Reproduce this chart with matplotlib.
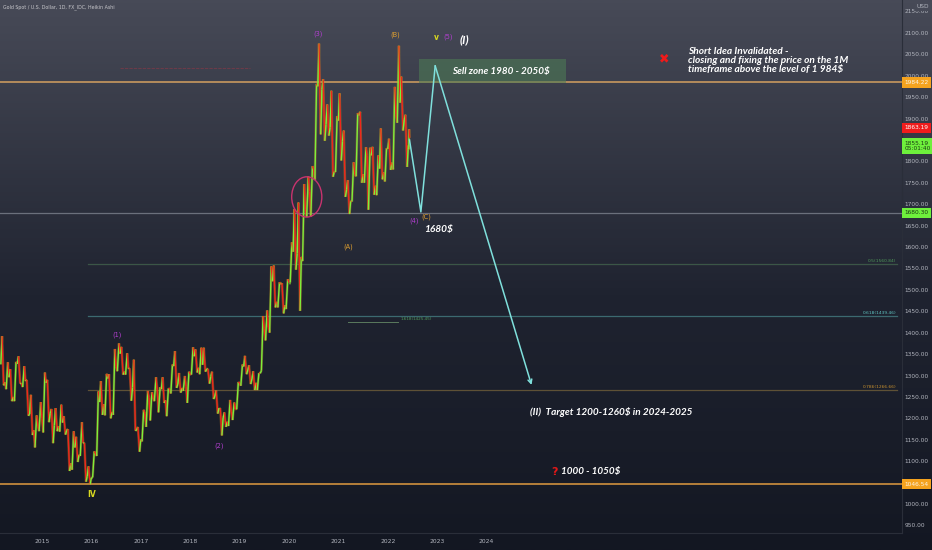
import numpy as np
import matplotlib
matplotlib.use("Agg")
import matplotlib.pyplot as plt
from matplotlib.collections import LineCollection
from matplotlib.patches import Ellipse, Rectangle
from matplotlib.colors import LinearSegmentedColormap
import matplotlib.transforms as mtransforms

# ---------------- data (monthly OHLC) ----------------
start_year, start_month = 2014, 3
last_date = 2022.44

closes = [1284, 1296, 1250, 1327, 1282, 1287, 1210, 1172, 1182, 1199,
          1283, 1212, 1183, 1182, 1190, 1172, 1095, 1132, 1115, 1142, 1065, 1061,
          1117, 1238, 1233, 1293, 1215, 1321, 1351, 1309, 1316, 1272, 1173, 1151,
          1211, 1248, 1249, 1268, 1268, 1242, 1269, 1322, 1280, 1271, 1275, 1303,
          1345, 1318, 1325, 1315, 1298, 1252, 1224, 1201, 1192, 1215, 1222, 1282,
          1321, 1313, 1292, 1283, 1305, 1409, 1413, 1520, 1472, 1513, 1464, 1517,
          1589, 1585, 1577, 1687, 1730, 1781, 1975, 1968, 1886, 1879, 1776, 1895,
          1847, 1734, 1708, 1769, 1907, 1770, 1814, 1814, 1743, 1783, 1774, 1829,
          1797, 1909, 1937, 1897, 1837, 1855]
highs = [1392, 1331, 1315, 1332, 1345, 1322, 1290, 1255, 1207, 1238,
         1307, 1290, 1222, 1224, 1232, 1205, 1175, 1170, 1157, 1191, 1143, 1088,
         1123, 1263, 1287, 1304, 1303, 1362, 1375, 1367, 1352, 1317, 1337, 1180,
         1220, 1264, 1261, 1296, 1273, 1296, 1270, 1326, 1357, 1306, 1299, 1309,
         1366, 1361, 1365, 1365, 1316, 1309, 1265, 1224, 1214, 1243, 1237, 1285,
         1326, 1346, 1324, 1310, 1306, 1439, 1452, 1555, 1557, 1518, 1516, 1525,
         1611, 1689, 1704, 1747, 1765, 1789, 1981, 2075, 1992, 1933, 1965, 1906,
         1959, 1872, 1756, 1798, 1913, 1916, 1833, 1832, 1834, 1814, 1877, 1831,
         1853, 1974, 2070, 1998, 1909, 1875]
lows = [1277, 1268, 1240, 1240, 1281, 1273, 1206, 1161, 1132, 1170,
        1167, 1191, 1142, 1170, 1169, 1162, 1077, 1080, 1098, 1112, 1052, 1046,
        1062, 1112, 1208, 1207, 1200, 1208, 1310, 1302, 1302, 1241, 1171, 1122,
        1146, 1180, 1195, 1240, 1214, 1236, 1205, 1258, 1271, 1260, 1264, 1236,
        1302, 1307, 1303, 1309, 1281, 1245, 1211, 1160, 1180, 1182, 1196, 1221,
        1276, 1303, 1280, 1266, 1266, 1311, 1382, 1400, 1459, 1459, 1445, 1455,
        1517, 1547, 1451, 1567, 1670, 1671, 1757, 1863, 1848, 1860, 1764, 1775,
        1802, 1717, 1677, 1706, 1765, 1750, 1750, 1687, 1722, 1721, 1758, 1753,
        1780, 1781, 1890, 1872, 1787, 1828]
opens = [1326] + closes[:-1]

forecast_dates = [2022.44, 2022.67, 2022.96, 2024.91]
forecast_prices = [1850, 1682, 2023, 1278]

years = list(range(2015, 2025))
price_ticks = np.arange(950, 2151, 50)
hidden_ticks = [1050, 1850]

level_1984 = 1984.22
level_1680 = 1680.30
level_1046 = 1046.54
fib_start = 2015.93
fib_levels = [("0.5", 1560.84, "#4f9a5a", "#3b5647"),
              ("0.618", 1439.46, "#5fc3c0", "#3c6a70"),
              ("0.786", 1266.66, "#c8902e", "#5e5136")]
ext_level = ("1.618", 1425.45)
ext_dates = (2021.19, 2022.2)
sell_zone_dates = (2022.63, 2025.6)
sell_zone_prices = (1982, 2038)

# ---------------- figure ----------------
W, H = 932, 550
fig = plt.figure(figsize=(W / 100, H / 100), dpi=100)

bg = fig.add_axes([0, 0, 1, 1], zorder=0)
grad = np.linspace(0, 1, 256).reshape(-1, 1) ** 0.9
cmap = LinearSegmentedColormap.from_list("bg", ["#131722", "#1f2330", "#474a57"])
bg.imshow(grad, aspect="auto", extent=[0, 1, 0, 1], origin="lower", cmap=cmap)
bg.set_axis_off()

plot_w, plot_h = 902, 533
ax = fig.add_axes([0, (H - plot_h) / H, plot_w / W, plot_h / H], zorder=1)
ax.patch.set_alpha(0)
ax.set_xlim(2014.15, 2032.41)
ax.set_ylim(932.3, 2176.8)
for s in ["top", "left"]:
    ax.spines[s].set_visible(False)
ax.spines["bottom"].set_color("#2a2e39")
ax.spines["right"].set_color("#2a2e39")

ax.yaxis.tick_right()
ax.set_yticks(price_ticks)
ax.set_yticklabels(["" if v in hidden_ticks else f"{v:.2f}" for v in price_ticks])
ax.tick_params(axis="y", length=0, pad=1.8, labelsize=4.2, labelcolor="#b2b5be")
ax.set_xticks(years)
ax.set_xticklabels([str(y) for y in years])
ax.tick_params(axis="x", length=0, pad=4.5, labelsize=4.3, labelcolor="#b2b5be")

# horizontal levels
ax.axhline(level_1984, color="#b48c5c", lw=1.4, zorder=2)
ax.axhline(level_1680, color="#6b707c", lw=0.9, zorder=2)
ax.axhline(level_1046, color="#b57f3a", lw=1.4, zorder=2)
for name, val, tc, lc in fib_levels:
    ax.plot([fib_start, 2032.3], [val, val], color=lc, lw=0.9, zorder=2)
    ax.text(2032.3, val + 3, f"{name}({val:.2f})", color=tc, fontsize=3.2,
            ha="right", va="bottom", zorder=3)
ax.plot(list(ext_dates), [ext_level[1]] * 2, color="#5a7a5e", lw=0.7, zorder=2)
ax.text(ext_dates[1] + 0.05, ext_level[1] + 2, f"{ext_level[0]}({ext_level[1]:.2f})",
        color="#4f9a5a", fontsize=3.0, ha="left", va="bottom", zorder=3)

# faint red line top-left
ax.plot([2016.58, 2019.21], [2018, 2018], color="#c03040", lw=0.8, alpha=0.35,
        ls=(0, (3, 1)), zorder=2)

# ---------------- price path ----------------
segs, cols = [], []
n = len(closes)
for i in range(n):
    t0 = start_year + (start_month - 1 + i) / 12
    t1 = min(t0 + 1 / 12, last_date)
    dt = t1 - t0
    o, h, l, c = opens[i], highs[i], lows[i], closes[i]
    if c >= o:
        pts = [(t0, o), (t0 + 0.3 * dt, l), (t0 + 0.7 * dt, h), (t1, c)]
    else:
        pts = [(t0, o), (t0 + 0.3 * dt, h), (t0 + 0.7 * dt, l), (t1, c)]
    for a, b in zip(pts[:-1], pts[1:]):
        segs.append([a, b])
        cols.append("#7cf03c" if b[1] >= a[1] else "#f0261b")
ax.add_collection(LineCollection(segs, colors="#e0901e", linewidths=1.9, alpha=0.35, zorder=3))
ax.add_collection(LineCollection(segs, colors=cols, linewidths=1.0, zorder=4))

# ---------------- forecast ----------------
ax.plot(forecast_dates[:-1], forecast_prices[:-1], color="#7fe0dc", lw=1.1, zorder=5)
ax.annotate("", xy=(forecast_dates[-1], forecast_prices[-1]),
            xytext=(forecast_dates[-2], forecast_prices[-2]),
            arrowprops=dict(arrowstyle="->", color="#7fe0dc", lw=1.1,
                            mutation_scale=7, shrinkA=0, shrinkB=0), zorder=5)

# sell zone
ax.add_patch(Rectangle((sell_zone_dates[0], sell_zone_prices[0]),
                       sell_zone_dates[1] - sell_zone_dates[0],
                       sell_zone_prices[1] - sell_zone_prices[0],
                       fc="#4d7a55", alpha=0.6, ec="none", zorder=4))
ital = dict(family="Lato", fontweight="bold", fontstyle="italic", color="white")
ax.text(2024.3, 2010, "Sell zone 1980 - 2050$", fontsize=7.1, ha="center", va="center",
        zorder=6, **ital)

# circle
ax.add_patch(Ellipse((2020.36, 1717), 0.61, 94, fill=False, ec="#c8336e", lw=1.0, zorder=6))

# wave labels
purple, orange, yellow = "#b23fd0", "#e0a030", "#d8d820"
wl = dict(fontsize=4.8, ha="center", va="center", zorder=6)
ax.text(2016.51, 1395, "(1)", color=purple, **wl)
ax.text(2018.58, 1135, "(2)", color=purple, **wl)
ax.text(2020.58, 2097, "(3)", color=purple, **wl)
ax.text(2022.54, 1661, "(4)", color=purple, **wl)
ax.text(2023.23, 2090, "(5)", color=purple, **wl)
ax.text(2021.19, 1600, "(A)", color=orange, **wl)
ax.text(2022.16, 2095, "(B)", color=orange, **wl)
ax.text(2022.79, 1670, "(C)", color=orange, **wl)
ax.text(2016.01, 1023, "IV", color=yellow, fontsize=5.5, fontweight="bold",
        ha="center", va="center", zorder=6)
ax.text(2022.99, 2090, "v", color=yellow, fontsize=5.5, fontweight="bold",
        ha="center", va="center", zorder=6)
ax.text(2023.56, 2083, "(I)", fontsize=8.5, ha="center", va="center", zorder=6, **ital)
ax.text(2022.73, 1642, "1680$", fontsize=7.3, ha="left", va="center", zorder=6, **ital)
ax.text(2024.87, 1215, "(II)  Target 1200-1260$ in 2024-2025", fontsize=7.2,
        ha="left", va="center", zorder=6, **ital)
ax.text(2025.3, 1075, "?", fontsize=8, color="#e01818", fontweight="bold",
        ha="left", va="center", zorder=6)
ax.text(2025.5, 1075, "1000 - 1050$", fontsize=7.1, ha="left", va="center", zorder=6, **ital)
ax.text(2028.07, 2036, "Short Idea Invalidated -\nclosing and fixing the price on the 1M\n"
        "timeframe above the level of 1 984$", fontsize=7.3, ha="left", va="center",
        linespacing=1.0, zorder=6, **ital)
ax.text(2027.6, 2040, "\u2716", color="#f01a1a", fontsize=9, ha="center", va="center",
        family="DejaVu Sans", zorder=6)

# ---------------- price-axis labels ----------------
tr = mtransforms.blended_transform_factory(ax.transAxes, ax.transData)
def plabel(y, txt, fc, tc):
    ax.text(1.0025, y, txt, transform=tr, fontsize=4.2, color=tc, ha="left", va="center",
            bbox=dict(boxstyle="square,pad=0.45", fc=fc, ec="none"), zorder=7, clip_on=False)

plabel(level_1984, f"{level_1984:.2f}", "#f5a31f", "#fbf3e6")
plabel(1878, "1863.19", "#f01c1c", "#ffffff")
plabel(1836, "1855.19\n05:01:40", "#6ef03c", "#1b3a14")
plabel(level_1680, f"{level_1680:.2f}", "#6ef03c", "#1b3a14")
plabel(level_1046, f"{level_1046:.2f}", "#f5a31f", "#fbf3e6")

fig.text(3 / W, 1 - 7 / H, "Gold Spot / U.S. Dollar, 1D, FX_IDC, Heikin Ashi",
         fontsize=3.4, color="#c8c8cc", ha="left", va="center")
fig.text(923 / W, 1 - 7 / H, "USD", fontsize=4.2, color="#b2b5be", ha="center", va="center",
         bbox=dict(boxstyle="square,pad=0.3", fc="#474a57", ec="none"))

fig.savefig("out.png", dpi=100)
